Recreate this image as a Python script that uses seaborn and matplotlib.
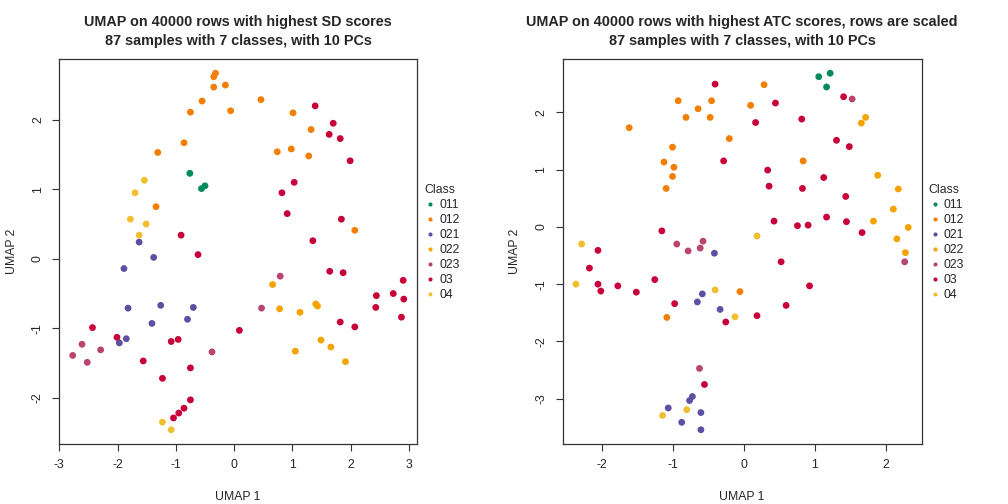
import matplotlib
matplotlib.use("Agg")
import matplotlib.pyplot as plt
import seaborn as sns
import pandas as pd

classes = ["011", "012", "021", "022", "023", "03", "04"]
class_colors = ["#008B5B", "#F27F00", "#5E4FA2", "#F5A300", "#B8446F", "#C8003A", "#F0BE2E"]

# left panel: SD scores
sd_011_x = [-0.76, -0.50, -0.56]
sd_011_y = [1.23, 1.05, 1.01]
sd_012_x = [-0.32, -0.35, -0.15, -0.35, -0.55, -0.06, -0.75, -0.86, -1.31, -1.34,
            0.46, 1.01, 1.32, 0.98, 0.74, 1.28, 2.07]
sd_012_y = [2.67, 2.62, 2.50, 2.47, 2.27, 2.13, 2.11, 1.67, 1.53, 0.75,
            2.29, 2.10, 1.86, 1.58, 1.54, 1.48, 0.41]
sd_021_x = [-1.63, -1.38, -1.89, -1.26, -1.82, -0.70, -1.41, -0.80, -1.85, -1.97]
sd_021_y = [0.24, 0.02, -0.14, -0.67, -0.71, -0.70, -0.93, -0.87, -1.15, -1.21]
sd_022_x = [0.66, 0.78, 1.13, 1.40, 1.43, 1.49, 1.05, 1.66, 1.91]
sd_022_y = [-0.37, -0.72, -0.77, -0.65, -0.68, -1.17, -1.33, -1.27, -1.48]
sd_023_x = [0.79, 0.47, -2.61, -2.29, -2.77, -2.52, -0.38]
sd_023_y = [-0.25, -0.71, -1.23, -1.31, -1.39, -1.49, -1.34]
sd_03_x = [-0.91, -0.62, 1.39, 1.70, 1.63, 1.82, 1.99, 1.03, 0.82, 0.91, 1.84, 1.35,
           1.64, 1.87, 2.90, 2.44, 2.73, 2.91, 2.43, 2.87, 1.82, 2.07, 0.09,
           -2.43, -2.01, -1.08, -0.96, -1.56, -0.75, -1.23, -0.75, -0.86, -0.95, -1.04]
sd_03_y = [0.34, 0.06, 2.20, 1.95, 1.79, 1.73, 1.41, 1.10, 0.95, 0.65, 0.57, 0.26,
           -0.18, -0.20, -0.31, -0.53, -0.50, -0.58, -0.70, -0.84, -0.91, -0.98, -1.03,
           -0.99, -1.13, -1.19, -1.16, -1.47, -1.57, -1.72, -2.03, -2.15, -2.22, -2.29]
sd_04_x = [-1.54, -1.70, -1.78, -1.51, -1.63, -1.23, -1.08]
sd_04_y = [1.13, 0.95, 0.57, 0.50, 0.34, -2.35, -2.46]

# right panel: ATC scores
atc_011_x = [1.06, 1.22, 1.17]
atc_011_y = [2.62, 2.68, 2.44]
atc_012_x = [-0.92, -0.45, -0.64, 0.10, -0.81, -0.47, -1.61, -0.20, -1.00, -1.12,
             -0.98, -1.00, -1.09, 0.29, 0.84, -1.08, -0.05]
atc_012_y = [2.20, 2.20, 2.06, 2.12, 1.91, 1.91, 1.73, 1.54, 1.39, 1.13,
             1.04, 0.88, 0.67, 2.48, 1.15, -1.58, -1.13]
atc_021_x = [-0.41, -0.58, -0.65, -0.33, -0.72, -0.76, -1.06, -0.60, -0.87, -0.60]
atc_021_y = [-0.46, -1.17, -1.31, -1.44, -2.96, -3.03, -3.16, -3.24, -3.41, -3.54]
atc_022_x = [1.72, 1.66, 1.89, 2.18, 2.11, 1.83, 2.32, 2.16, 2.28]
atc_022_y = [1.91, 1.81, 0.90, 0.66, 0.31, 0.10, -0.01, -0.21, -0.45]
atc_023_x = [-0.94, -0.57, -0.78, -0.61, 1.53, 2.27, -0.62]
atc_023_y = [-0.30, -0.25, -0.42, -0.37, 2.23, -0.61, -2.47]
atc_03_x = [-0.40, 0.17, -0.28, -1.15, -2.05, -2.17, -1.25, 0.45, 0.82, 1.41, 1.31, 1.49,
            0.34, 1.13, 0.36, 0.83, 1.44, 0.43, 0.76, 0.91, 1.17, 1.45, 1.67, 0.53,
            -2.05, -2.01, -1.77, -1.51, -0.97, -0.25, 0.19, -0.55, 0.93, 0.60]
atc_03_y = [2.49, 1.82, 1.15, -0.07, -0.41, -0.72, -0.92, 2.16, 1.88, 2.27, 1.51, 1.40,
            0.99, 0.86, 0.71, 0.67, 0.53, 0.10, 0.02, 0.03, 0.17, 0.09, -0.10, -0.61,
            -1.00, -1.12, -1.03, -1.14, -1.34, -1.66, -1.55, -2.75, -1.03, -1.37]
atc_04_x = [-2.28, 0.19, -2.36, -0.40, -0.12, -1.14, -0.80]
atc_04_y = [-0.30, -0.16, -1.00, -1.10, -1.57, -3.29, -3.19]

sd_x = [sd_011_x, sd_012_x, sd_021_x, sd_022_x, sd_023_x, sd_03_x, sd_04_x]
sd_y = [sd_011_y, sd_012_y, sd_021_y, sd_022_y, sd_023_y, sd_03_y, sd_04_y]
atc_x = [atc_011_x, atc_012_x, atc_021_x, atc_022_x, atc_023_x, atc_03_x, atc_04_x]
atc_y = [atc_011_y, atc_012_y, atc_021_y, atc_022_y, atc_023_y, atc_03_y, atc_04_y]

titles = ["UMAP on 40000 rows with highest SD scores\n87 samples with 7 classes, with 10 PCs",
          "UMAP on 40000 rows with highest ATC scores, rows are scaled\n87 samples with 7 classes, with 10 PCs"]
x_ticks = [list(range(-3, 4)), list(range(-2, 3))]


def make_frame(xs, ys):
    rows = []
    for cl, xv, yv in zip(classes, xs, ys):
        for a, b in zip(xv, yv):
            rows.append((cl, a, b))
    return pd.DataFrame(rows, columns=["Class", "x", "y"])


sns.set_style("white")
plt.rcParams['font.family'] = ['Liberation Sans', 'DejaVu Sans']
plt.rcParams['axes.unicode_minus'] = False

fig = plt.figure(figsize=(10.08, 5.04), dpi=100)
ax_pos = [[0.0588, 0.119, 0.3549, 0.764], [0.5582, 0.119, 0.3560, 0.764]]
panels = [(sd_x, sd_y), (atc_x, atc_y)]

for pos, (xs, ys), title, xt in zip(ax_pos, panels, titles, x_ticks):
    ax = fig.add_axes(pos)
    df = make_frame(xs, ys)
    sns.scatterplot(data=df, x="x", y="y", hue="Class", hue_order=classes,
                    palette=class_colors, s=24, linewidth=0, ax=ax)
    ax.margins(0.04)
    ax.set_xticks(xt)
    ax.set_title(title, fontsize=10.4, fontweight="bold", pad=10, linespacing=1.45)
    ax.set_xlabel("UMAP 1", fontsize=8.8, labelpad=14)
    ax.set_ylabel("UMAP 2", fontsize=8.8, labelpad=10)
    ax.tick_params(axis="both", direction="out", length=5, width=0.8, labelsize=8.8,
                   bottom=True, left=True, color="#333333", pad=6)
    for lab in ax.get_yticklabels():
        lab.set_rotation(90)
        lab.set_va("center")
    for sp in ax.spines.values():
        sp.set_color("#333333")
        sp.set_linewidth(0.9)
    sns.move_legend(ax, loc="upper left", bbox_to_anchor=(1.0, 0.695), frameon=False,
                    title="Class", fontsize=8.8, title_fontsize=8.8,
                    handletextpad=0.2, labelspacing=0.25, borderaxespad=0.2,
                    markerscale=0.6, handlelength=1.0)
    ax.get_legend()._legend_box.align = "left"

fig.savefig("out.png", dpi=100)
